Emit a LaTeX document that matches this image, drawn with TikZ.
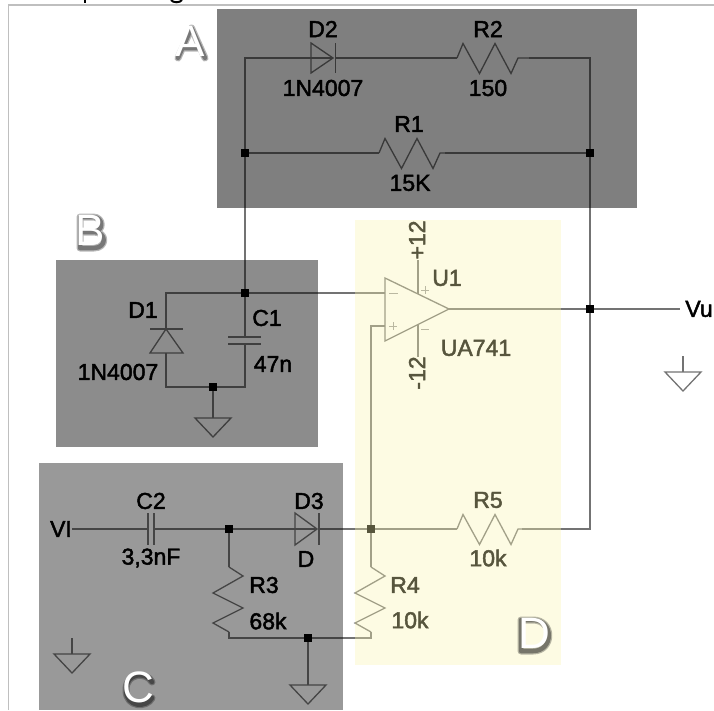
\documentclass[tikz,border=0pt]{standalone}
\usepackage{fontspec}
\setmainfont{Liberation Sans}
\newfontfamily\lblfont[FakeBold=2]{Liberation Sans}
\tikzset{
  x=1pt,y=-1pt,
  wire/.style={draw=black!55,line width=1.4pt,line join=miter},
  part/.style={draw=black!55,line width=1.3pt,fill=none,line join=miter},
  sign/.style={draw=black!40,line width=1pt},
  sdot/.style={rectangle,fill=black,inner sep=0pt,minimum size=8pt},
  lbl/.style={font=\lblfont\fontsize{23}{23}\selectfont,text=black,inner sep=0pt},
  big/.style={font=\fontsize{44}{44}\selectfont,inner sep=0pt,text=white},
  halo/.style={draw=black,line width=7pt,opacity=.28,line cap=round,line join=round},
  haloin/.style={draw=black,line width=4.5pt,opacity=.35,line cap=round,line join=round}
}
\newcommand{\ResH}[3]{% left x, y, right x
  \draw[part] (#1,#2) -- ++(6,-14.5) -- ++(16.5,30) -- ++(15.5,-30) -- ++(16,30) -- ++(7,-15.5) -- (#3,#2);}
\newcommand{\ResV}[3]{% x, top y, bottom y
  \draw[part] (#1,#2) -- ++(14,9) -- ++(-30,17) -- ++(30,15) -- ++(-30,15) -- ++(16,9) -- (#1,#3);}
\newcommand{\Gnd}[3]{% x, top y (triangle), half width
  \draw[part] (#1-#3,#2) -- (#1+#3,#2) -- (#1,#2+19) -- cycle;}
\newcommand{\Halo}[1]{\path[halo] #1; \path[haloin] #1;}
\begin{document}
\begin{tikzpicture}
\useasboundingbox (0,0) rectangle (714,710);
\fill[white] (0,0) rectangle (714,710);
% cropped remains of a heading above the frame
\draw[black,line width=2pt] (85,0) -- (85,3);
\draw[black,line width=2pt] (171,0) .. controls (173,3) and (180,3) .. (182,0);
% frame
\draw[black!25,line width=1.2pt] (8.5,710) -- (8.5,5) -- (714,5);

% junction coordinates
\coordinate (ja) at (245,153);
\coordinate (jb) at (590,153);
\coordinate (jc) at (245,293);
\coordinate (jd) at (590,309);
\coordinate (je) at (371,529);
\coordinate (jf) at (229,529);
\coordinate (jg) at (308,638);
\coordinate (jh) at (213,387);

% branch A
\draw[wire] (jc) -- (ja) -- (245,58) -- (311,58);
\draw[part] (311,43) -- (311,73) -- (333,58) -- cycle;
\draw[part] (311,58) -- (333,58);
\draw[part] (335.5,43) -- (335.5,73);
\draw[wire] (335.5,58) -- (457,58);
\ResH{457}{58}{529}
\draw[wire] (529,58) -- (590,58) -- (jb) -- (jd) -- (590,529) -- (522,529);
\draw[wire] (ja) -- (379,153);
\ResH{379}{153}{445}
\draw[wire] (445,153) -- (jb);

% B
\draw[wire] (jc) -- (385,293);
\draw[wire] (jc) -- (166,293) -- (166,329);
\draw[part] (150,329) -- (183,329);
\draw[part] (166,329) -- (150,353) -- (183,353) -- cycle;
\draw[wire] (166,353) -- (166,387) -- (jh) -- (245,387) -- (245,344);
\draw[wire] (jc) -- (245,337);
\draw[part] (228,337) -- (261,337);
\draw[part] (228,344) -- (261,344);
\draw[wire] (jh) -- (213,418);
\Gnd{213}{418}{18}

% opamp
\draw[part] (385,278) -- (449,309) -- (385,341) -- cycle;
\draw[wire] (449,309) -- (jd) -- (680,309);
\draw[wire] (418,294) -- (418,260);
\draw[wire] (418,325) -- (418,357);
\draw[wire] (385,326) -- (371,326) -- (je);
\draw[sign] (389,293) -- (398,293);
\draw[sign] (389,326) -- (397,326) (393,322) -- (393,330);
\draw[sign] (421,290) -- (429,290) (425,286) -- (425,294);
\draw[sign] (421,329) -- (429,329);
% free ground at Vu
\draw[wire] (683,356) -- (683,372);
\Gnd{683}{372}{18}

% C
\draw[wire] (72,529) -- (148,529);
\draw[part] (148,513) -- (148,545);
\draw[part] (154,513) -- (154,545);
\draw[wire] (154,529) -- (jf) -- (295,529);
\draw[part] (295,513) -- (295,545) -- (317,529) -- cycle;
\draw[part] (295,529) -- (317,529);
\draw[part] (319,513) -- (319,545);
\draw[wire] (319,529) -- (je) -- (457,529);
\ResH{457}{529}{522}
\draw[wire] (jf) -- (229,567);
\ResV{229}{567}{632}
\draw[wire] (229,632) -- (229,638) -- (jg) -- (371,638) -- (371,632);
\draw[wire] (je) -- (371,567);
\ResV{371}{567}{632}
\draw[wire] (jg) -- (308,685);
\Gnd{308}{685}{18}
\draw[wire] (72,638) -- (72,654);
\Gnd{72}{654}{18}

% dots
\foreach \p in {ja,jb,jc,jd,je,jf,jg,jh}{\node[sdot] at (\p) {};}

% labels
\node[lbl] (d2) at (323,29) {D2};
\node[lbl] (d2v) at (323,88) {1N4007};
\node[lbl] (r2) at (488,29) {R2};
\node[lbl] (r2v) at (488,88) {150};
\node[lbl] (r1) at (409,124) {R1};
\node[lbl] (r1v) at (410,183) {15K};
\node[lbl] (d1) at (143,310) {D1};
\node[lbl] (d1v) at (118,372) {1N4007};
\node[lbl] (c1) at (267,318) {C1};
\node[lbl] (c1v) at (273,364) {47n};
\node[lbl] (u1) at (447,278) {U1};
\node[lbl] (ua) at (476,348) {UA741};
\node[lbl,rotate=90] (vp) at (417,240) {+12};
\node[lbl,rotate=90] (vm) at (417,373) {-12};
\node[lbl] (vu) at (699,309) {Vu};
\node[lbl] (vi) at (61,529) {VI};
\node[lbl] (c2) at (151,501) {C2};
\node[lbl] (c2v) at (151,558) {3,3nF};
\node[lbl] (d3) at (309,501) {D3};
\node[lbl] (d3v) at (306,559) {D};
\node[lbl] (r3) at (264,585) {R3};
\node[lbl] (r3v) at (268,621) {68k};
\node[lbl] (r4) at (405,585) {R4};
\node[lbl] (r4v) at (410,620) {10k};
\node[lbl] (r5) at (488,500) {R5};
\node[lbl] (r5v) at (488,558) {10k};

% translucent regions over the drawing
\definecolor{paneyellow}{RGB}{250,244,176}
\fill[black,opacity=.5] (217,9) rectangle (637,208);
\fill[black,opacity=.45] (56,260) rectangle (318,447);
\fill[black,opacity=.4] (39,463) rectangle (343,710);
\fill[paneyellow,opacity=.35] (355,220) rectangle (561,665);

% soft shadows of the region letters
\begin{scope}[shift={(1,2)}]
\Halo{(177,56) -- (190.5,26) -- (204,56) (182,46) -- (199,46)}
\Halo{(79,215) -- (79,246) -- (93,246) .. controls (106,246) and (106,230) .. (93,230) -- (79,230) (79,215) -- (92,215) .. controls (103,215) and (103,230) .. (92,230)}
\Halo{(151,680) .. controls (146,670) and (125,670) .. (125,688) .. controls (125,706) and (146,706) .. (151,696)}
\Halo{(520,618) -- (520,649) -- (532,649) .. controls (553,649) and (553,618) .. (532,618) -- cycle}
\end{scope}

% region letters
\node[big] (a) at (190,41) {A};
\node[big] (b) at (90,230) {B};
\node[big] (c) at (138,687) {C};
\node[big] (d) at (534,633) {D};
\end{tikzpicture}
\end{document}
